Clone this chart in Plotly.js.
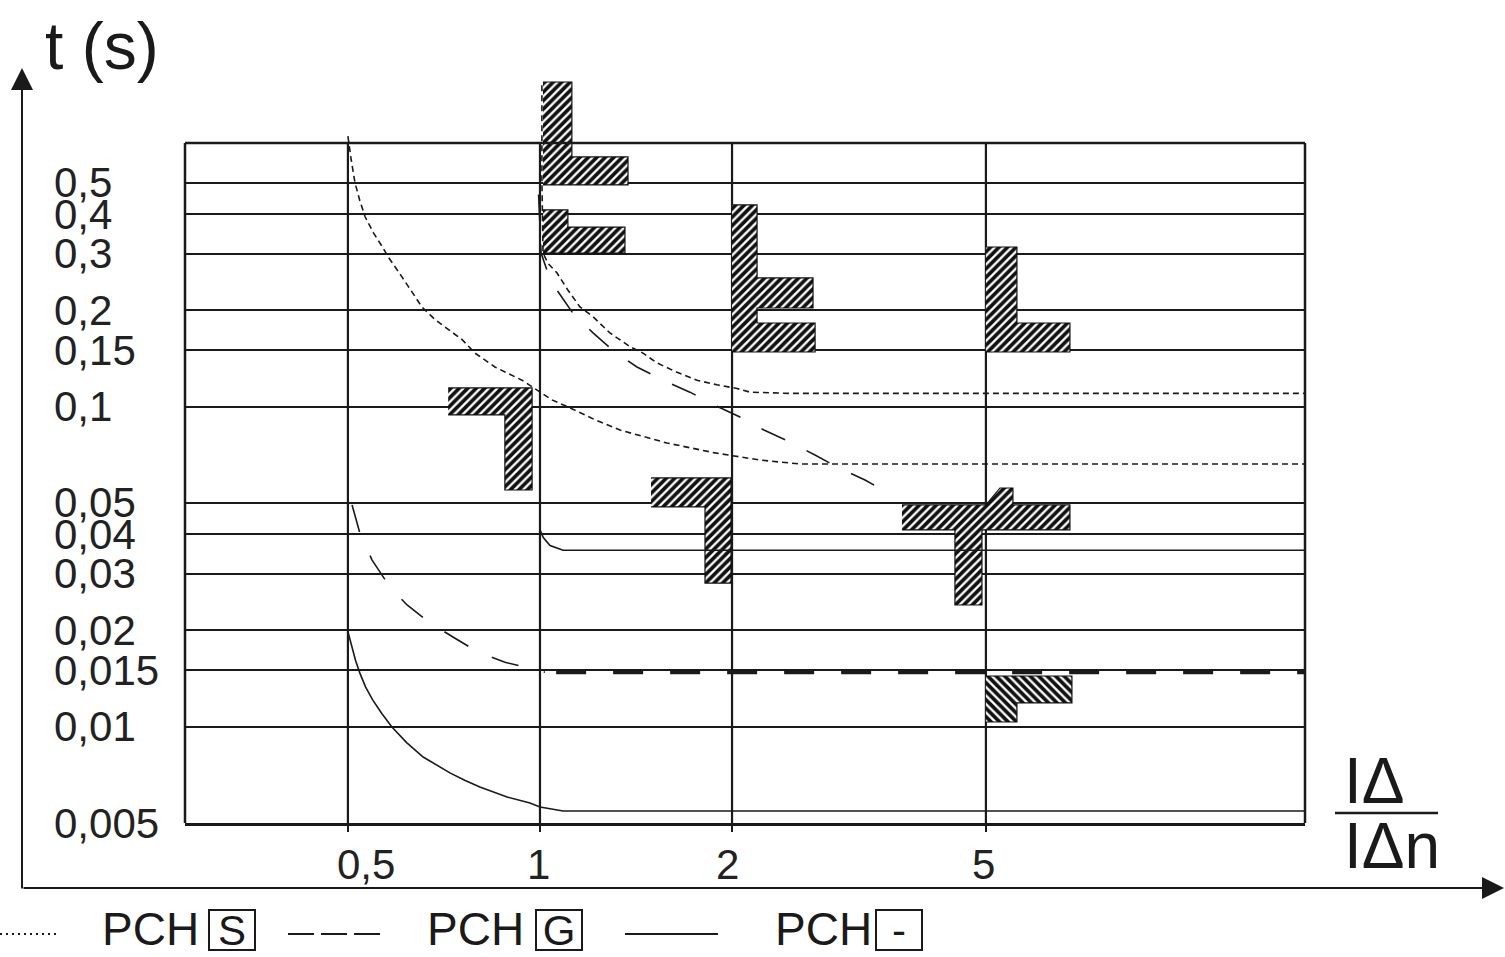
<!DOCTYPE html>
<html><head><meta charset="utf-8">
<script src="https://cdn.plot.ly/plotly-3.0.1.min.js"></script>
<style>html,body{margin:0;padding:0;background:#fff}#chart{width:1505px;height:957px}</style>
</head><body><div id="chart"></div>
<script>
// ---- axes / ticks ----
const xTicks = [0.5, 1, 2, 5];
const xTickLabels = ['0,5', '1', '2', '5'];
const yTicks = [0.5, 0.4, 0.3, 0.2, 0.15, 0.1, 0.05, 0.04, 0.03, 0.02, 0.015, 0.01, 0.005];
const yTickLabels = ['0,5', '0,4', '0,3', '0,2', '0,15', '0,1', '0,05', '0,04', '0,03', '0,02', '0,015', '0,01', '0,005'];
const frameTop = 0.6667;   // upper limit of the gridded frame (t, s)

// ---- PCH S (dotted) ----
const sLowX = [0.5, 0.503, 0.506, 0.513, 0.522, 0.532, 0.548, 0.566, 0.578, 0.608, 0.653, 0.685, 0.72, 0.755, 0.791, 0.85, 0.937, 0.982, 1.044, 1.106, 1.22, 1.335, 1.581, 1.881, 2.212, 2.556, 15.8];
const sLowT = [0.70, 0.64, 0.59, 0.50, 0.44, 0.392, 0.35, 0.316, 0.294, 0.254, 0.205, 0.187, 0.174, 0.162, 0.147, 0.133, 0.121, 0.114, 0.105, 0.0998, 0.091, 0.0845, 0.077, 0.0717, 0.0681, 0.0662, 0.0662];
const sHighX = [1.007, 1.007, 1.011, 1.03, 1.063, 1.105, 1.155, 1.211, 1.287, 1.384, 1.450, 1.525, 1.640, 1.762, 1.894, 2.036, 2.134, 2.465, 15.8];
const sHighT = [1.01, 0.511, 0.302, 0.28, 0.262, 0.232, 0.205, 0.191, 0.170, 0.154, 0.147, 0.137, 0.128, 0.121, 0.117, 0.114, 0.111, 0.110, 0.110];

// ---- PCH G (dashed) ----
const gHighX = [0.995, 1.004, 1.03, 1.063, 1.126, 1.211, 1.301, 1.419, 1.559, 1.718, 1.881, 2.058, 2.244, 2.465, 2.698, 2.921, 3.232, 3.512];
const gHighT = [0.46, 0.302, 0.26, 0.2315, 0.196, 0.170, 0.150, 0.133, 0.121, 0.111, 0.101, 0.0928, 0.0845, 0.0776, 0.0706, 0.0648, 0.059, 0.0537];
const gLowX = [0.5075, 0.522, 0.5453, 0.5818, 0.619, 0.6725, 0.7359, 0.7995, 0.8813, 0.982, 1.018];
const gLowT = [0.0493, 0.0403, 0.0332, 0.0273, 0.0240, 0.0211, 0.0189, 0.0171, 0.0159, 0.0151, 0.0148];
const gPlateauX = [1.06, 15.8];
const gPlateauT = [0.0148, 0.0148];

// ---- PCH - (solid) ----
const nLowX = [0.5, 0.5075, 0.514, 0.522, 0.533, 0.547, 0.565, 0.586, 0.618, 0.656, 0.6886, 0.7225, 0.762, 0.805, 0.888, 0.9645, 1.0, 1.04, 1.087, 15.8];
const nLowT = [0.0198, 0.0177, 0.0161, 0.0147, 0.0133, 0.0121, 0.0110, 0.00998, 0.00892, 0.00804, 0.00757, 0.00717, 0.00680, 0.00648, 0.00603, 0.00577, 0.00561, 0.00552, 0.00545, 0.00545];
const nHighX = [1.0, 1.012, 1.037, 1.087, 15.8];
const nHighT = [0.0412, 0.0390, 0.0368, 0.0356, 0.0356];

// ---- hatched tolerance zones ----
const zone1X = [1.011, 1.122, 1.122, 1.374, 1.374, 1.011];
const zone1T = [1.034, 1.034, 0.603, 0.603, 0.493, 0.493];
const zone2X = [1.011, 1.106, 1.106, 1.359, 1.359, 1.011];
const zone2T = [0.412, 0.412, 0.364, 0.364, 0.302, 0.302];
const zone3X = [2.0, 2.189, 2.189, 2.679, 2.679, 2.189, 2.189, 2.699, 2.699, 2.0];
const zone3T = [0.427, 0.427, 0.2525, 0.2525, 0.2034, 0.2034, 0.1826, 0.1826, 0.1482, 0.1482];
const zone4X = [5.0, 5.592, 5.592, 6.771, 6.771, 5.0];
const zone4T = [0.3155, 0.3155, 0.1826, 0.1826, 0.1482, 0.1482];
const zone5X = [0.718, 0.972, 0.972, 0.881, 0.881, 0.718];
const zone5T = [0.1144, 0.1144, 0.0549, 0.0549, 0.0942, 0.0942];
const zone6X = [1.493, 1.993, 1.993, 1.814, 1.814, 1.493];
const zone6T = [0.0599, 0.0599, 0.0281, 0.0281, 0.0486, 0.0486];
const zone7X = [3.693, 5.0, 5.26, 5.512, 5.512, 6.771, 6.771, 4.929, 4.929, 4.471, 4.471, 3.693];
const zone7T = [0.0493, 0.0493, 0.0557, 0.0557, 0.0493, 0.0493, 0.0412, 0.0412, 0.0240, 0.0240, 0.0412, 0.0412];
const zone8X = [5.0, 6.82, 6.82, 5.592, 5.592, 5.0];
const zone8T = [0.0144, 0.0144, 0.01186, 0.01186, 0.01034, 0.01034];

// ---- legend ----
const legendNames = ['PCH', 'PCH', 'PCH'];
const legendBoxes = ['S', 'G', '-'];

// ================= drawing =================
const INK = '#1a1a1a';
const FONT = 'Liberation Sans, Arial, sans-serif';
const M = {l: 185, r: 200, t: 60, b: 134};
const W = 1505, H = 957;
const PW = W - M.l - M.r, PH = H - M.t - M.b;
const px = v => (v - M.l) / PW;          // pixel -> paper x
const py = v => (H - M.b - v) / PH;      // pixel -> paper y
const xr = [-0.5564, 1.1991];
const yr = [Math.log10(Math.min(...yTicks)), 0.0833];

const traces = [];
// vertical grid lines inside the frame
xTicks.forEach(v => traces.push({x: [v, v], y: [Math.min(...yTicks), frameTop], mode: 'lines',
  line: {color: INK, width: 2.2}, hoverinfo: 'skip', showlegend: false}));

const zone = (X, T, shape) => ({x: X, y: T, mode: 'lines', fill: 'toself', fillcolor: '#fff',
  fillpattern: {shape: shape, fgcolor: '#111', bgcolor: '#fff', size: 6, solidity: 0.62},
  line: {color: '#111', width: 1.2}, hoverinfo: 'skip', showlegend: false});
[[zone1X, zone1T], [zone2X, zone2T], [zone3X, zone3T], [zone4X, zone4T], [zone5X, zone5T], [zone6X, zone6T], [zone7X, zone7T]]
  .forEach(z => traces.push(zone(z[0], z[1], '/')));
traces.push(zone(zone8X, zone8T, '\\'));

const curve = (X, T, dash, w, name) => ({x: X, y: T, mode: 'lines', name: name,
  line: {color: INK, width: w, dash: dash, shape: 'linear'}, hoverinfo: 'skip', showlegend: false});
traces.push(curve(sLowX, sLowT, '6px,4px', 1.6, 'PCH S'));
traces.push(curve(sHighX, sHighT, '6px,4px', 1.6, 'PCH S'));
traces.push(curve(gHighX, gHighT, '26px,24px', 1.6, 'PCH G'));
traces.push(curve(gLowX, gLowT, '28px,26px', 1.6, 'PCH G'));
traces.push(curve(gPlateauX, gPlateauT, '30px,27px', 4, 'PCH G'));
traces.push(curve(nLowX, nLowT, 'solid', 1.6, 'PCH -'));
traces.push(curve(nHighX, nHighT, 'solid', 1.6, 'PCH -'));

const ftPaper = (Math.log10(frameTop) - yr[0]) / (yr[1] - yr[0]);
const shapes = [
  {type: 'line', xref: 'paper', yref: 'paper', x0: 0, x1: 0, y0: 0, y1: ftPaper, line: {color: INK, width: 2.5}},
  {type: 'line', xref: 'paper', yref: 'paper', x0: 1, x1: 1, y0: 0, y1: ftPaper, line: {color: INK, width: 2.5}},
  {type: 'line', xref: 'paper', yref: 'paper', x0: 0, x1: 1, y0: ftPaper, y1: ftPaper, line: {color: INK, width: 2.5}},
  // fraction bar
  {type: 'line', xref: 'paper', yref: 'paper', x0: px(1335), x1: px(1438), y0: py(813), y1: py(813), line: {color: INK, width: 2.5}},
  // legend samples
  {type: 'line', xref: 'paper', yref: 'paper', x0: px(0), x1: px(57), y0: py(934), y1: py(934), line: {color: INK, width: 2, dash: '2px,4px'}},
  {type: 'line', xref: 'paper', yref: 'paper', x0: px(288), x1: px(380), y0: py(934), y1: py(934), line: {color: INK, width: 2, dash: '26px,7px'}},
  {type: 'line', xref: 'paper', yref: 'paper', x0: px(625), x1: px(718), y0: py(934), y1: py(934), line: {color: INK, width: 2}}
];

const ann = [];
yTicks.forEach((v, i) => ann.push({xref: 'paper', yref: 'y', x: px(52), y: Math.log10(v), xanchor: 'left', yanchor: 'middle',
  text: yTickLabels[i], showarrow: false, font: {family: FONT, size: 42, color: '#222'}}));
const xShift = [18, -1, -5, -2];
xTicks.forEach((v, i) => ann.push({xref: 'x', yref: 'paper', x: Math.log10(v), y: py(864), xanchor: 'center', yanchor: 'middle',
  xshift: xShift[i], text: xTickLabels[i], showarrow: false, font: {family: FONT, size: 42, color: '#222'}}));
ann.push({xref: 'paper', yref: 'paper', x: px(43), y: py(46), xanchor: 'left', yanchor: 'middle', text: 't (s)', showarrow: false,
  font: {family: FONT, size: 66, color: INK}});
ann.push({xref: 'paper', yref: 'paper', x: px(1342), y: py(781), xanchor: 'left', yanchor: 'middle', text: 'IΔ', showarrow: false,
  font: {family: FONT, size: 64, color: INK}});
ann.push({xref: 'paper', yref: 'paper', x: px(1342), y: py(846), xanchor: 'left', yanchor: 'middle', text: 'IΔn', showarrow: false,
  font: {family: FONT, size: 64, color: INK}});
// outer axis arrows
ann.push({xref: 'paper', yref: 'paper', x: px(22), y: py(68), ax: 0, ay: 822, text: '', showarrow: true,
  arrowhead: 2, arrowsize: 2.2, arrowwidth: 2, arrowcolor: INK, standoff: 0, startstandoff: 0});
ann.push({xref: 'paper', yref: 'paper', x: px(1505), y: py(888), ax: -1483, ay: 0, text: '', showarrow: true,
  arrowhead: 2, arrowsize: 2.2, arrowwidth: 2, arrowcolor: INK, standoff: 0, startstandoff: 0});
// legend texts
const nameX = [100, 425, 773], boxX = [232, 559, 899];
legendNames.forEach((n, i) => {
  ann.push({xref: 'paper', yref: 'paper', x: px(nameX[i]), y: py(929), xanchor: 'left', yanchor: 'middle', text: n, showarrow: false,
    font: {family: FONT, size: 46, color: INK}});
  ann.push({xref: 'paper', yref: 'paper', x: px(boxX[i]), y: py(930), xanchor: 'center', yanchor: 'middle', text: legendBoxes[i], showarrow: false,
    width: 44, height: 38, borderwidth: 2, bordercolor: INK, borderpad: 0, font: {family: FONT, size: 42, color: INK}});
});

const layout = {
  width: W, height: H, margin: M, paper_bgcolor: '#fff', plot_bgcolor: '#fff', showlegend: false,
  xaxis: {type: 'log', range: xr, showgrid: false, zeroline: false, showline: true, linecolor: INK, linewidth: 2.5,
    ticks: 'outside', ticklen: 6, tickwidth: 2, tickcolor: INK, tickvals: xTicks, showticklabels: false, fixedrange: true},
  yaxis: {type: 'log', range: yr, showgrid: true, gridcolor: INK, gridwidth: 2.2, tickvals: yTicks, showticklabels: false,
    ticks: '', showline: false, zeroline: false, fixedrange: true},
  shapes: shapes, annotations: ann
};
Plotly.newPlot('chart', traces, layout, {displayModeBar: false, staticPlot: true});
</script></body></html>
